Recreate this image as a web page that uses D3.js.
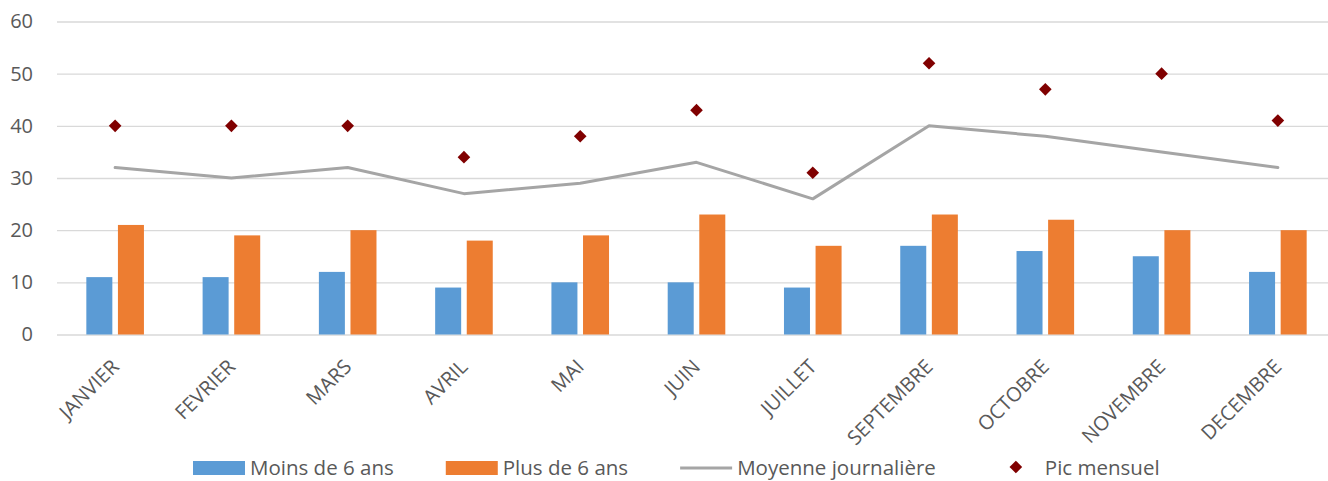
<!DOCTYPE html>
<html>
<head>
<meta charset="utf-8">
<script src="https://cdn.jsdelivr.net/npm/d3@7"></script>
<style>
  html, body { margin: 0; padding: 0; background: #fff; }
  svg { display: block; font-family: "Open Sans", sans-serif; }
</style>
</head>
<body>
<svg id="chart" width="1328" height="481"></svg>
<script>
// months shown on the x axis (no AOUT in the source)
const months = ["JANVIER", "FEVRIER", "MARS", "AVRIL", "MAI", "JUIN", "JUILLET",
  "SEPTEMBRE", "OCTOBRE", "NOVEMBRE", "DECEMBRE"];
const moins6 = [11, 11, 12, 9, 10, 10, 9, 17, 16, 15, 12];
const plus6 = [21, 19, 20, 18, 19, 23, 17, 23, 22, 20, 20];
const moyenne = [32, 30, 32, 27, 29, 33, 26, 40, 38, 35, 32];
const pic = [40, 40, 40, 34, 38, 43, 31, 52, 47, 50, 41];
const yTicks = [0, 10, 20, 30, 40, 50, 60];
const seriesNames = ["Moins de 6 ans", "Plus de 6 ans", "Moyenne journalière", "Pic mensuel"];

const colors = {
  moins: "#5B9BD5",
  plus: "#ED7D31",
  line: "#A5A5A5",
  pic: "#800000",
  grid: "#D9D9D9",
  text: "#595959"
};

const svg = d3.select("#chart");
const plot = { left: 57, right: 1336, top: 21.5, bottom: 334.5 };

const x = d3.scaleBand().domain(months).range([plot.left, plot.right]).padding(0);
const y = d3.scaleLinear().domain([0, 60]).range([plot.bottom, plot.top]);

// two bars per month, grouped around the band centre
const groupW = 57.6;
const xSub = d3.scaleBand()
  .domain(["moins", "plus"])
  .range([x.bandwidth() / 2 - groupW / 2, x.bandwidth() / 2 + groupW / 2])
  .paddingInner(0.177)
  .paddingOuter(0);

// gridlines + y labels
const yAxis = d3.axisLeft(y).tickValues(yTicks).tickSize(-(plot.right - plot.left)).tickPadding(24);
const gy = svg.append("g").attr("transform", `translate(${plot.left},0)`).call(yAxis);
gy.select(".domain").remove();
gy.selectAll(".tick line").attr("stroke", colors.grid).attr("stroke-width", 1.4);
gy.selectAll(".tick text")
  .attr("fill", colors.text)
  .style("font-size", "20px")
  .style("font-family", "'Open Sans', sans-serif");

const cx = m => x(m) + x.bandwidth() / 2;

// bars
const bars = svg.append("g");
bars.selectAll("rect.moins")
  .data(months)
  .join("rect")
  .attr("class", "moins")
  .attr("x", (m) => x(m) + xSub("moins"))
  .attr("width", xSub.bandwidth())
  .attr("y", (m, i) => y(moins6[i]))
  .attr("height", (m, i) => y(0) - y(moins6[i]))
  .attr("fill", colors.moins);

bars.selectAll("rect.plus")
  .data(months)
  .join("rect")
  .attr("class", "plus")
  .attr("x", (m) => x(m) + xSub("plus"))
  .attr("width", xSub.bandwidth())
  .attr("y", (m, i) => y(plus6[i]))
  .attr("height", (m, i) => y(0) - y(plus6[i]))
  .attr("fill", colors.plus);

// average line
const line = d3.line()
  .x((d, i) => cx(months[i]))
  .y(d => y(d));

svg.append("path")
  .datum(moyenne)
  .attr("d", line)
  .attr("fill", "none")
  .attr("stroke", colors.line)
  .attr("stroke-width", 3)
  .attr("stroke-linejoin", "round")
  .attr("stroke-linecap", "round");

// monthly peaks as diamonds
const diamond = d3.symbol().type(d3.symbolSquare).size(80);
svg.append("g").selectAll("path")
  .data(pic)
  .join("path")
  .attr("d", diamond)
  .attr("transform", (d, i) => `translate(${cx(months[i])},${y(d)}) rotate(45)`)
  .attr("fill", colors.pic);

// x labels, rotated
svg.append("g").selectAll("text")
  .data(months)
  .join("text")
  .attr("transform", m => `translate(${cx(m) + 5},368) rotate(-45)`)
  .attr("text-anchor", "end")
  .attr("fill", colors.text)
  .style("font-size", "20px")
  .text(m => m);

// legend
const legend = svg.append("g");
let lx = 193;
const ly = 468;
seriesNames.forEach((name, i) => {
  const g = legend.append("g");
  if (i < 2) {
    g.append("rect")
      .attr("x", lx).attr("y", ly - 7)
      .attr("width", 52).attr("height", 14)
      .attr("fill", i === 0 ? colors.moins : colors.plus);
  } else if (i === 2) {
    g.append("line")
      .attr("x1", lx).attr("x2", lx + 52)
      .attr("y1", ly).attr("y2", ly)
      .attr("stroke", colors.line)
      .attr("stroke-width", 3);
  } else {
    g.append("path")
      .attr("d", diamond)
      .attr("transform", `translate(${lx + 28},${ly - 1}) rotate(45)`)
      .attr("fill", colors.pic);
  }
  const t = g.append("text")
    .attr("x", lx + 57)
    .attr("y", ly + 7)
    .attr("fill", colors.text)
    .style("font-size", "20.5px")
    .text(name);
  lx += 57 + t.node().getComputedTextLength() + 52;
});
</script>
</body>
</html>
